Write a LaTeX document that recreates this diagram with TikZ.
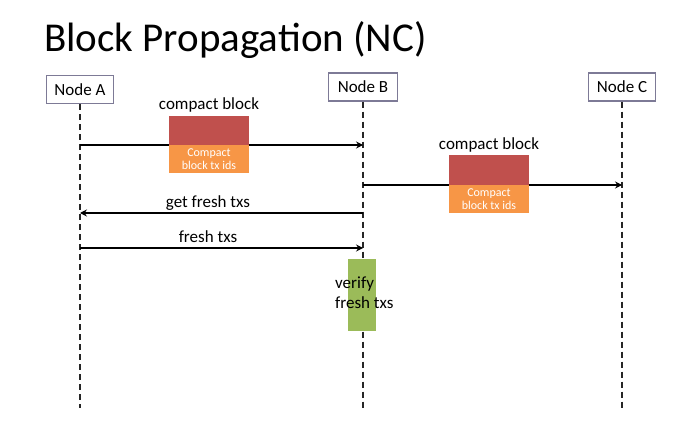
\documentclass[tikz,border=0pt]{standalone}
\usepackage{fontspec}
\setmainfont{Carlito}
\usetikzlibrary{arrows.meta}
\definecolor{blockred}{HTML}{C0504D}
\definecolor{blockorange}{HTML}{F79646}
\definecolor{verifygreen}{HTML}{9BBB59}
\definecolor{boxedge}{RGB}{125,122,150}
\begin{document}
\begin{tikzpicture}[x=1pt,y=-1pt,
  actor/.style={draw=boxedge,line width=1.2pt,fill=white,minimum height=28pt,inner sep=0pt,font=\fontsize{17}{20}\selectfont},
  lifeline/.style={line width=1.4pt,dash pattern=on 6pt off 4pt,black!85},
  msg/.style={line width=1.2pt,-{Stealth[length=7pt,width=7pt,inset=2.5pt]}},
  lbl/.style={anchor=base,inner sep=0pt,font=\fontsize{17}{20}\selectfont},
  redpart/.style={fill=blockred,draw=none,minimum width=80pt,minimum height=29pt,inner sep=0pt},
  orangepart/.style={fill=blockorange,draw=none,minimum width=80pt,minimum height=28pt,inner sep=0pt,text=white,align=center,font=\fontsize{12}{12.5}\selectfont},
  verifybox/.style={fill=verifygreen,draw=none,minimum width=28pt,minimum height=72pt,inner sep=0pt}]
\fill[white] (0,0) rectangle (680,428);
\useasboundingbox (0,0) rectangle (680,428);
% title
\node[anchor=base west,inner sep=0pt,font=\fontsize{41}{48}\selectfont] (title) at (44,52) {Block Propagation (NC)};
% actors
\node[actor,minimum width=67pt] (A) at (80,89.5) {Node A};
\node[actor,minimum width=69pt] (B) at (363,87) {Node B};
\node[actor,minimum width=67pt] (C) at (622,87) {Node C};
% lifeline ends
\coordinate (Aend) at (80,408);
\coordinate (Bend) at (363,408);
\coordinate (Cend) at (622,408);
\draw[lifeline] (A.south) -- (Aend);
\draw[lifeline] (B.south) -- (Bend);
\draw[lifeline] (C.south) -- (Cend);
% message points
\coordinate (a1) at (80,145);  \coordinate (b1) at (363,145);
\coordinate (b2) at (363,185); \coordinate (c2) at (622,185);
\coordinate (b3) at (363,213); \coordinate (a3) at (80,213);
\coordinate (a4) at (80,248);  \coordinate (b4) at (363,248);
\draw[msg] (a1) -- (b1);
\draw[msg] (b2) -- (c2);
\draw[msg] (b3) -- (a3);
\draw[msg] (a4) -- (b4);
% compact blocks
\node[redpart] (r1) at (209,130.5) {};
\node[orangepart] (o1) at (209,159) {Compact\\block tx ids};
\node[lbl] (l1) at (209,109) {compact block};
\node[redpart,minimum height=30pt] (r2) at (489,170) {};
\node[orangepart] (o2) at (489,199) {Compact\\block tx ids};
\node[lbl] (l2) at (489,149) {compact block};
% other labels
\node[lbl] (l3) at (208,207) {get fresh txs};
\node[lbl] (l4) at (208,242) {fresh txs};
% verify
\node[verifybox] (v) at (362,295) {};
\node[anchor=base west,inner sep=0pt,align=left,font=\fontsize{17}{20}\selectfont] (vt) at (335,308) {verify\\fresh txs};
\end{tikzpicture}
\end{document}
